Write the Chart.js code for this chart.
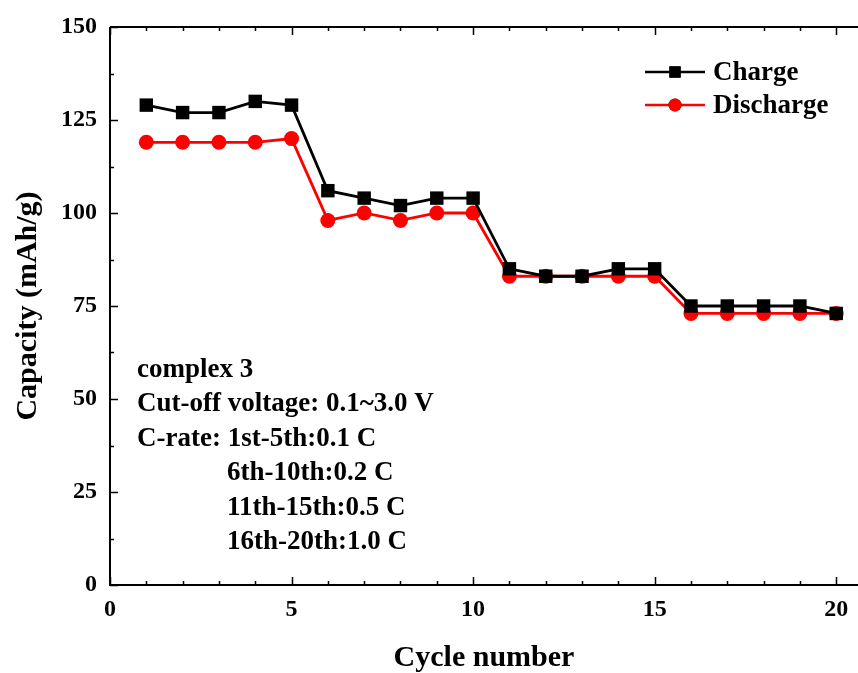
<!DOCTYPE html>
<html lang="en">
<head>
    <meta charset="UTF-8">
    <title>Capacity vs cycle number</title>
    <script src="https://cdn.jsdelivr.net/npm/chart.js"></script>
    <style>
        html, body {
            margin: 0;
            padding: 0;
            background: #fff;
            overflow: hidden;
        }
        canvas {
            display: block;
        }
    </style>
</head>
<body>
    <canvas id="chartCap" width="858" height="673"></canvas>
    <script>
        // data
        const cycles = [1, 2, 3, 4, 5, 6, 7, 8, 9, 10, 11, 12, 13, 14, 15, 16, 17, 18, 19, 20];
        const chargeCap = [129, 127, 127, 130, 129, 106, 104, 102, 104, 104, 85, 83, 83, 85, 85, 75, 75, 75, 75, 73];
        const dischargeCap = [119, 119, 119, 119, 120, 98, 100, 98, 100, 100, 83, 83, 83, 83, 83, 73, 73, 73, 73, 73];
        const xTickLabels = [0, 5, 10, 15, 20];
        const yTickLabels = [0, 25, 50, 75, 100, 125, 150];
        const noteLines = [
            { text: 'complex 3', indent: false },
            { text: 'Cut-off voltage: 0.1~3.0 V', indent: false },
            { text: 'C-rate: 1st-5th:0.1 C', indent: false },
            { text: '6th-10th:0.2 C', indent: true },
            { text: '11th-15th:0.5 C', indent: true },
            { text: '16th-20th:1.0 C', indent: true }
        ];

        const FONT = "'Liberation Serif', 'Times New Roman', serif";

        // axis lines plus inward ticks (major + minor)
        const axisTicks = {
            id: 'axisTicks',
            afterDatasetsDraw(chart) {
                const { ctx, chartArea, scales } = chart;
                const { left, top, right, bottom } = chartArea;
                ctx.save();
                ctx.strokeStyle = '#000';
                ctx.lineWidth = 2;
                ctx.beginPath();
                ctx.moveTo(left, top);
                ctx.lineTo(right, top);
                ctx.moveTo(left, top);
                ctx.lineTo(left, bottom);
                ctx.lineTo(right, bottom);
                ctx.stroke();
                ctx.lineWidth = 1.5;
                ctx.beginPath();
                for (let v = 0; v <= 20; v++) {
                    const px = Math.round(scales.x.getPixelForValue(v)) + 0.5;
                    const len = v % 5 === 0 ? 8 : 4;
                    ctx.moveTo(px, bottom);
                    ctx.lineTo(px, bottom - len);
                    ctx.moveTo(px, top);
                    ctx.lineTo(px, top + len);
                }
                for (let v = 0; v <= 150; v += 12.5) {
                    const py = Math.round(scales.y.getPixelForValue(v)) + 0.5;
                    const len = v % 25 === 0 ? 8 : 4;
                    ctx.moveTo(left, py);
                    ctx.lineTo(left + len, py);
                }
                ctx.stroke();
                ctx.restore();
            }
        };

        // legend (line + marker) and the text block
        const extras = {
            id: 'extras',
            afterDraw(chart) {
                const ctx = chart.ctx;
                ctx.save();
                chart.data.datasets.forEach((ds, i) => {
                    const y = 72 + i * 33;
                    ctx.strokeStyle = ds.borderColor;
                    ctx.lineWidth = 2.5;
                    ctx.beginPath();
                    ctx.moveTo(645, y);
                    ctx.lineTo(705, y);
                    ctx.stroke();
                    Chart.helpers.drawPoint(ctx, {
                        pointStyle: ds.pointStyle,
                        radius: ds.pointStyle === 'rect' ? 8 : 6.5,
                        borderWidth: 0
                    }, 675, y);
                    ctx.fillStyle = ds.pointBackgroundColor;
                    ctx.fill();
                    ctx.fillStyle = '#000';
                    ctx.font = 'bold 27px ' + FONT;
                    ctx.textBaseline = 'middle';
                    ctx.textAlign = 'left';
                    ctx.fillText(ds.label, 713, y + 1);
                });

                ctx.font = 'bold 27px ' + FONT;
                ctx.fillStyle = '#000';
                noteLines.forEach((ln, i) => {
                    ctx.fillText(ln.text, ln.indent ? 227 : 137, 370 + i * 34.5);
                });
                ctx.restore();
            }
        };

        const ctxCap = document.getElementById('chartCap').getContext('2d');
        const chartCap = new Chart(ctxCap, {
            type: 'line',
            data: {
                labels: cycles,
                datasets: [{
                    label: 'Charge',
                    data: chargeCap,
                    borderColor: '#000000',
                    backgroundColor: '#000000',
                    pointBackgroundColor: '#000000',
                    pointBorderColor: '#000000',
                    pointStyle: 'rect',
                    pointRadius: 9.5,
                    pointBorderWidth: 0,
                    borderWidth: 2.8,
                    tension: 0,
                    clip: false
                }, {
                    label: 'Discharge',
                    data: dischargeCap,
                    borderColor: '#ff0000',
                    backgroundColor: '#ff0000',
                    pointBackgroundColor: '#ff0000',
                    pointBorderColor: '#ff0000',
                    pointStyle: 'circle',
                    pointRadius: 7.5,
                    pointBorderWidth: 0,
                    borderWidth: 2.8,
                    tension: 0,
                    clip: false
                }]
            },
            options: {
                responsive: false,
                animation: false,
                layout: {
                    autoPadding: false,
                    padding: { top: 27, right: 0, left: 0, bottom: 0 }
                },
                plugins: {
                    legend: { display: false },
                    tooltip: { enabled: false }
                },
                scales: {
                    x: {
                        type: 'linear',
                        min: 0,
                        max: 20.6,
                        grid: { display: false, drawTicks: false },
                        border: { display: false },
                        afterBuildTicks: (scale) => {
                            scale.ticks = xTickLabels.map(v => ({ value: v }));
                        },
                        afterFit: (scale) => {
                            scale.height = 88;
                            scale.paddingLeft = 0;
                            scale.paddingRight = 0;
                        },
                        ticks: {
                            color: '#000',
                            padding: 10,
                            maxRotation: 0,
                            font: { family: FONT, size: 24, weight: 'bold' }
                        },
                        title: {
                            display: true,
                            text: 'Cycle number',
                            color: '#000',
                            padding: 0,
                            font: { family: FONT, size: 30, weight: 'bold', lineHeight: 1.0 }
                        }
                    },
                    y: {
                        min: 0,
                        max: 150,
                        grid: { display: false, drawTicks: false },
                        border: { display: false },
                        afterBuildTicks: (scale) => {
                            scale.ticks = yTickLabels.map(v => ({ value: v }));
                        },
                        afterFit: (scale) => {
                            scale.width = 110;
                            scale.paddingTop = 0;
                            scale.paddingBottom = 0;
                        },
                        ticks: {
                            color: '#000',
                            padding: 13,
                            font: { family: FONT, size: 24, weight: 'bold' }
                        },
                        title: {
                            display: true,
                            text: 'Capacity (mAh/g)',
                            color: '#000',
                            padding: { top: 13 },
                            font: { family: FONT, size: 30, weight: 'bold', lineHeight: 1.0 }
                        }
                    }
                }
            },
            plugins: [axisTicks, extras]
        });
    </script>
</body>
</html>
